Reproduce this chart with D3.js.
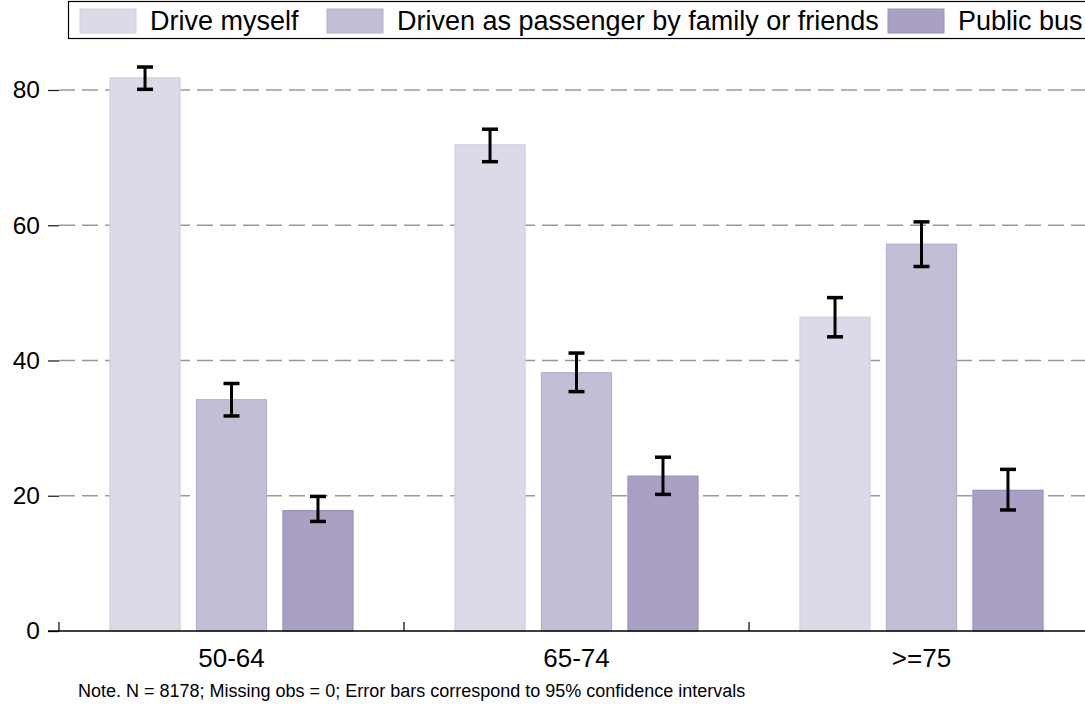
<!DOCTYPE html>
<html>
<head>
<meta charset="utf-8">
<script src="https://cdn.jsdelivr.net/npm/d3@7"></script>
<style>
  html, body { margin: 0; padding: 0; background: #fff; }
  svg { display: block; font-family: "Liberation Sans", Arial, Helvetica, sans-serif; }
</style>
</head>
<body>
<svg id="chart" width="1085" height="709"></svg>
<script>
const categories = ["50-64", "65-74", ">=75"];
const seriesNames = ["Drive myself", "Driven as passenger by family or friends", "Public bus"];
const driveMyself = [81.8, 71.9, 46.4];
const drivenPassenger = [34.2, 38.2, 57.2];
const publicBus = [17.8, 22.9, 20.8];
const lowDrive = [80.1, 69.4, 43.5];
const highDrive = [83.4, 74.2, 49.3];
const lowDriven = [31.8, 35.4, 53.9];
const highDriven = [36.6, 41.1, 60.5];
const lowBus = [16.2, 20.2, 17.9];
const highBus = [19.9, 25.7, 23.9];
const yTicks = [0, 20, 40, 60, 80];
const note = "Note. N = 8178; Missing obs = 0; Error bars correspond to 95% confidence intervals";

const colors = ["#dcd9e8", "#c3bed6", "#aaa0c4"];
const strokes = ["#d2cee2", "#b5aed0", "#9a8fbe"];

const values = [driveMyself, drivenPassenger, publicBus];
const lows = [lowDrive, lowDriven, lowBus];
const highs = [highDrive, highDriven, highBus];

const svg = d3.select("#chart");

const x0 = d3.scaleBand().domain(categories).range([59, 1094]).paddingInner(0).paddingOuter(0);
const x1 = d3.scaleBand().domain(d3.range(3)).range([-121.5, 121.5]).paddingInner(0.19).paddingOuter(0);
const y = d3.scaleLinear().domain([0, 80]).range([631, 90]);

// gridlines
svg.append("g").selectAll("line").data(yTicks.filter(d => d > 0)).join("line")
  .attr("x1", 59).attr("x2", 1085)
  .attr("y1", d => y(d)).attr("y2", d => y(d))
  .attr("stroke", "#999").attr("stroke-width", 1.3)
  .attr("stroke-dasharray", "16,7");

// y axis (ticks + labels, no domain line)
const yAxis = d3.axisLeft(y).tickValues(yTicks).tickSize(11).tickPadding(8).tickFormat(d3.format("d"));
const yg = svg.append("g").attr("transform", "translate(59,0)").call(yAxis);
yg.select(".domain").remove();
yg.selectAll(".tick line").attr("stroke", "#222").attr("stroke-width", 1.3);
yg.selectAll(".tick text").attr("font-size", 24.5).attr("fill", "#000")
  .attr("font-family", "'Liberation Sans', Arial, sans-serif");

// bars
const groups = svg.append("g").selectAll("g").data(categories).join("g")
  .attr("transform", d => `translate(${x0(d) + x0.bandwidth() / 2},0)`);

groups.each(function(cat, ci) {
  const g = d3.select(this);
  for (let s = 0; s < 3; s++) {
    g.append("rect")
      .attr("x", x1(s)).attr("width", x1.bandwidth())
      .attr("y", y(values[s][ci])).attr("height", y(0) - y(values[s][ci]))
      .attr("fill", colors[s]).attr("stroke", strokes[s]).attr("stroke-width", 1.2);
  }
  for (let s = 0; s < 3; s++) {
    const cx = x1(s) + x1.bandwidth() / 2;
    const lo = y(lows[s][ci]), hi = y(highs[s][ci]);
    g.append("line").attr("x1", cx).attr("x2", cx).attr("y1", lo).attr("y2", hi)
      .attr("stroke", "#000").attr("stroke-width", 3);
    [lo, hi].forEach(v => {
      g.append("line").attr("x1", cx - 8).attr("x2", cx + 8).attr("y1", v).attr("y2", v)
        .attr("stroke", "#000").attr("stroke-width", 3.5);
    });
  }
});

// x axis
const xAxis = d3.axisBottom(x0).tickSize(0).tickPadding(18);
const xg = svg.append("g").attr("transform", `translate(0,${y(0)})`).call(xAxis);
xg.select(".domain").attr("stroke", "#000").attr("stroke-width", 1.3).attr("d", "M48,0H1095");
xg.selectAll(".tick text").attr("font-size", 26).attr("fill", "#000").attr("dy", "0.71em")
  .attr("font-family", "'Liberation Sans', Arial, sans-serif");
// category boundary ticks
svg.append("g").selectAll("line").data(categories).join("line")
  .attr("x1", d => x0(d)).attr("x2", d => x0(d))
  .attr("y1", y(0)).attr("y2", y(0) - 9)
  .attr("stroke", "#000").attr("stroke-width", 1.2);

// legend
const legend = svg.append("g");
legend.append("rect").attr("x", 68.5).attr("y", 1.5).attr("width", 1030).attr("height", 37)
  .attr("fill", "#fff").attr("stroke", "#000").attr("stroke-width", 1.2);
const legendX = [80, 327, 888];
seriesNames.forEach((name, i) => {
  legend.append("rect").attr("x", legendX[i]).attr("y", 9).attr("width", 56).attr("height", 24)
    .attr("fill", colors[i]).attr("stroke", strokes[i]).attr("stroke-width", 1);
  legend.append("text").attr("x", legendX[i] + 70).attr("y", 29.5)
    .attr("font-size", 27).attr("fill", "#000").text(name);
});

// note
svg.append("text").attr("x", 78).attr("y", 697).attr("font-size", 18).attr("fill", "#000").text(note);
</script>
</body>
</html>
